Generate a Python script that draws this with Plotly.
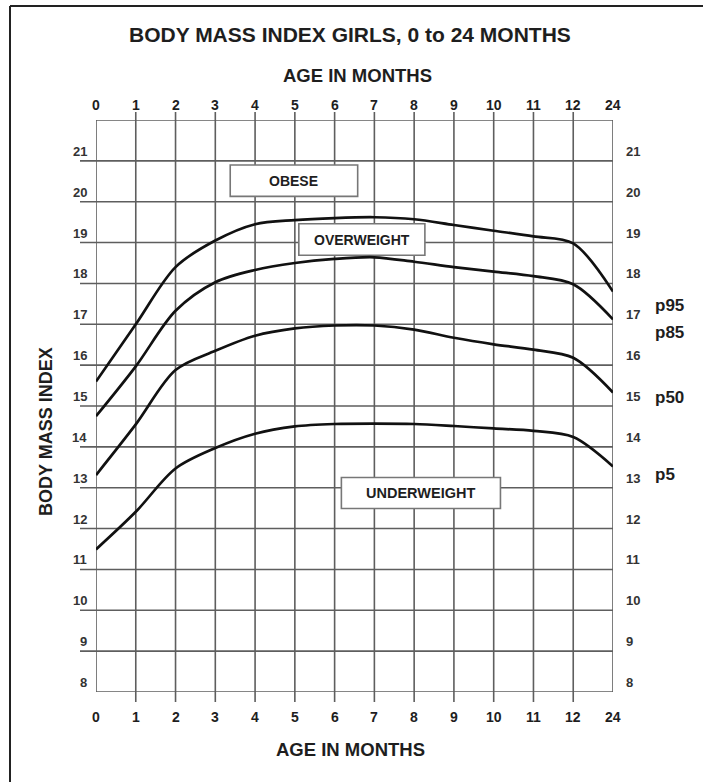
import plotly.graph_objects as go

# ---- data ----
age_labels = ["0", "1", "2", "3", "4", "5", "6", "7", "8", "9", "10", "11", "12", "24"]
bmi_ticks = [8, 9, 10, 11, 12, 13, 14, 15, 16, 17, 18, 19, 20, 21]
bmi_top = 22
p95 = [15.6, 17.0, 18.4, 19.05, 19.45, 19.55, 19.6, 19.62, 19.57, 19.43, 19.29, 19.15, 18.98, 17.8]
p85 = [14.75, 15.97, 17.33, 18.03, 18.33, 18.5, 18.6, 18.64, 18.53, 18.4, 18.29, 18.18, 17.98, 17.12]
p50 = [13.31, 14.55, 15.88, 16.35, 16.72, 16.9, 16.97, 16.97, 16.87, 16.67, 16.51, 16.38, 16.18, 15.33]
p5 = [11.49, 12.41, 13.47, 13.97, 14.32, 14.5, 14.56, 14.57, 14.56, 14.51, 14.45, 14.39, 14.24, 13.52]
series = {"p95": p95, "p85": p85, "p50": p50, "p5": p5}
zone_labels = ["OBESE", "OVERWEIGHT", "UNDERWEIGHT"]

W, H = 703, 782
ML, MR, MT, MB = 96, 90, 120, 90
PW, PH = W - ML - MR, H - MT - MB
FONT = "Liberation Sans, Arial, sans-serif"
TXT = "#1e1e1e"
GRID = "#5e5e5e"

def px(dx):
    return dx / PW

def py(dy):
    return dy / PH

fig = go.Figure()
for name, vals in series.items():
    fig.add_trace(go.Scatter(
        x=age_labels, y=vals, mode="lines", name=name,
        line=dict(color="#111111", width=2.7, shape="spline", smoothing=0.9),
        hoverinfo="x+y", showlegend=False))

shapes = []
n = len(age_labels)
# vertical grid lines
for i, lab in enumerate(age_labels):
    inner = 0 < i < n - 1
    shapes.append(dict(type="line", xref="x", yref="paper", x0=i, x1=i,
                       y0=-py(10) if inner else 0, y1=1 + py(8) if inner else 1,
                       line=dict(color=GRID, width=1.6), layer="below"))
# horizontal grid lines
all_y = bmi_ticks + [bmi_top]
for v in all_y:
    inner = bmi_ticks[0] < v < bmi_top
    shapes.append(dict(type="line", xref="paper", yref="y", x0=-px(16) if inner else 0, x1=1,
                       y0=v, y1=v, line=dict(color=GRID, width=1.6), layer="below"))
# zone boxes
boxes = [
    (3.375, 6.58, 20.13, 20.9, 14),
    (5.1, 8.27, 18.69, 19.46, 14),
    (6.17, 10.17, 12.49, 13.25, 14.5),
]
annotations = []
for lab, (x0, x1, y0, y1, fs) in zip(zone_labels, boxes):
    shapes.append(dict(type="rect", xref="x", yref="y", x0=x0, x1=x1, y0=y0, y1=y1,
                       fillcolor="white", line=dict(color="#777777", width=1.6), layer="below"))
    annotations.append(dict(xref="x", yref="y", x=(x0 + x1) / 2, y=(y0 + y1) / 2, text=f"<b>{lab}</b>",
                            showarrow=False, font=dict(family=FONT, size=fs, color=TXT)))
# outer frame (left and top only visible)
shapes.append(dict(type="line", xref="paper", yref="paper", x0=px(10 - ML), x1=px(10 - ML),
                   y0=-1, y1=1 + py(MT - 6), line=dict(color="#222", width=2)))
shapes.append(dict(type="line", xref="paper", yref="paper", x0=px(10 - ML), x1=2,
                   y0=1 + py(MT - 6), y1=1 + py(MT - 6), line=dict(color="#222", width=2)))

# y tick labels
for v in bmi_ticks:
    annotations.append(dict(xref="paper", yref="y", x=-px(7), y=v, xanchor="right", yanchor="bottom",
                            yshift=0, text=f"<b>{v}</b>", showarrow=False,
                            font=dict(family=FONT, size=13, color="#333")))
    annotations.append(dict(xref="paper", yref="y", x=1 + px(11), y=v, xanchor="left", yanchor="bottom",
                            yshift=0, text=f"<b>{v}</b>", showarrow=False,
                            font=dict(family=FONT, size=13, color="#333")))
# x tick labels top & bottom
for i, lab in enumerate(age_labels):
    for yy in (1 + py(15), -py(25)):
        annotations.append(dict(xref="x", yref="paper", x=i, y=yy, xanchor="center", yanchor="middle",
                                text=f"<b>{lab}</b>", showarrow=False,
                                font=dict(family=FONT, size=14, color=TXT)))
# percentile labels
pct_pos = {"p95": 17.45, "p85": 16.81, "p50": 15.22, "p5": 13.33}
for name, yv in pct_pos.items():
    annotations.append(dict(xref="paper", yref="y", x=1 + px(40), y=yv, xanchor="left", yanchor="middle",
                            text=f"<b>{name}</b>", showarrow=False,
                            font=dict(family=FONT, size=17, color=TXT)))
# titles
annotations.append(dict(xref="paper", yref="paper", x=px(350 - ML), y=1 + py(MT - 34.5), xanchor="center",
                        yanchor="middle", text="<b>BODY MASS INDEX GIRLS, 0 to 24 MONTHS</b>", showarrow=False,
                        font=dict(family=FONT, size=21, color=TXT)))
annotations.append(dict(xref="paper", yref="paper", x=px(357 - ML), y=1 + py(MT - 75.5), xanchor="center",
                        yanchor="middle", text="<b>AGE IN MONTHS</b>", showarrow=False,
                        font=dict(family=FONT, size=18.5, color=TXT)))
annotations.append(dict(xref="paper", yref="paper", x=px(350 - ML), y=-py(749 - (H - MB)), xanchor="center",
                        yanchor="middle", text="<b>AGE IN MONTHS</b>", showarrow=False,
                        font=dict(family=FONT, size=18.5, color=TXT)))
annotations.append(dict(xref="paper", yref="paper", x=px(46 - ML), y=1 - py(432 - MT), xanchor="center",
                        yanchor="middle", text="<b>BODY MASS INDEX</b>", textangle=-90, showarrow=False,
                        font=dict(family=FONT, size=18, color=TXT)))

fig.update_layout(
    width=W, height=H, margin=dict(l=ML, r=MR, t=MT, b=MB),
    paper_bgcolor="white", plot_bgcolor="white",
    xaxis=dict(type="category", categoryorder="array", categoryarray=age_labels,
               range=[0, n - 1], showgrid=False, zeroline=False, showticklabels=False, fixedrange=True),
    yaxis=dict(range=[bmi_ticks[0], bmi_top], showgrid=False, zeroline=False, showticklabels=False,
               fixedrange=True),
    shapes=shapes, annotations=annotations, showlegend=False,
)
fig.write_html("out.html", config={"displayModeBar": False},
               post_script="document.body.style.margin='0';document.body.style.overflow='hidden';")
